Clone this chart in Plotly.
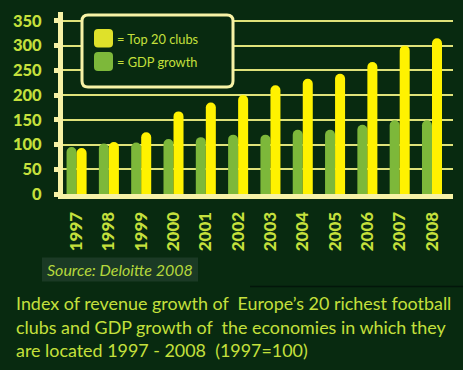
import plotly.graph_objects as go

years = ["1997", "1998", "1999", "2000", "2001", "2002", "2003", "2004", "2005", "2006", "2007", "2008"]
gdp_growth = [95, 102, 104, 111, 115, 120, 120, 130, 130, 140, 149, 149]
top20_clubs = [93, 105, 125, 167, 185, 200, 220, 233, 243, 267, 300, 315]
y_ticks = [0, 50, 100, 150, 200, 250, 300, 350]
title_lines = [
    "Index of revenue growth of \u00a0Europe\u2019s 20 richest football",
    "clubs and GDP growth of \u00a0the economies in which they",
    "are located 1997 - 2008 \u00a0(1997=100)",
]

W, H = 463, 370
L, R, T, B = 63, 453, 12, 193.7

BG = "#082a10"
PALE = "#f7f2a6"
GRID = "#dfe27a"
TXT = "#c5e03c"
GREEN = "#7db83a"
YELLOW = "#fff200"


def px(x):
    return (x - L) / (R - L)


def py(y):
    return (B - y) / (B - T)


def rrect(x0, y0, x1, y1, r):
    X0, X1 = px(x0), px(x1)
    Y0, Y1 = py(y0), py(y1)
    rx = r / (R - L)
    ry = r / (B - T)
    return (f"M {X0+rx},{Y0} L {X1-rx},{Y0} Q {X1},{Y0} {X1},{Y0-ry} "
            f"L {X1},{Y1+ry} Q {X1},{Y1} {X1-rx},{Y1} L {X0+rx},{Y1} "
            f"Q {X0},{Y1} {X0},{Y1+ry} L {X0},{Y0-ry} Q {X0},{Y0} {X0+rx},{Y0} Z")


fig = go.Figure()
fig.add_trace(go.Bar(x=years, y=gdp_growth, name="= GDP growth", hoverinfo="skip",
                     marker=dict(color=GREEN, line=dict(width=0), cornerradius="50%")))
fig.add_trace(go.Bar(x=years, y=top20_clubs, name="= Top 20 clubs", hoverinfo="skip",
                     marker=dict(color=YELLOW, line=dict(width=0), cornerradius="50%")))

shapes = []
shapes.append(dict(type="path", xref="paper", yref="paper", path=rrect(82, 15, 233, 87, 6),
                   fillcolor=BG, line=dict(color=PALE, width=3), layer="above"))
shapes.append(dict(type="path", xref="paper", yref="paper", path=rrect(94, 29, 113, 47.5, 4),
                   fillcolor="#dfe12a", line=dict(width=0), layer="above"))
shapes.append(dict(type="path", xref="paper", yref="paper", path=rrect(94, 52, 113, 71, 4),
                   fillcolor=GREEN, line=dict(width=0), layer="above"))
shapes.append(dict(type="rect", xref="paper", yref="paper", x0=px(42), x1=px(198), y0=py(257), y1=py(281),
                   fillcolor="#1b3a25", line=dict(width=0), layer="below"))
shapes.append(dict(type="line", xref="paper", yref="paper", x0=px(250), x1=px(463), y0=py(286), y1=py(286),
                   line=dict(color="#02160a", width=1.5)))

annotations = [
    dict(text="= Top 20 clubs", x=px(115), y=py(38.5), xref="paper", yref="paper", xanchor="left",
         yanchor="middle", showarrow=False, font=dict(family="Lato", size=12.8, color=TXT)),
    dict(text="= GDP growth", x=px(115), y=py(61.5), xref="paper", yref="paper", xanchor="left",
         yanchor="middle", showarrow=False, font=dict(family="Lato", size=12.8, color=TXT)),
    dict(text="<i>Source: Deloitte 2008</i>", x=px(45), y=py(269.5), xref="paper", yref="paper",
         xanchor="left", yanchor="middle", showarrow=False,
         font=dict(family="Lato", size=16, color="#b5d83c")),
]
for line, yc in zip(title_lines, [302.5, 326.5, 349.5]):
    annotations.append(dict(text=line, x=px(14), y=py(yc), xref="paper", yref="paper",
                            xanchor="left", yanchor="middle", align="left", showarrow=False,
                            font=dict(family="Lato", size=17.9, color=TXT)))

fig.update_layout(
    width=W, height=H,
    margin=dict(l=L, r=W - R, t=T, b=H - B, pad=0, autoexpand=False),
    paper_bgcolor=BG, plot_bgcolor=BG,
    barmode="group", bargap=0.38, bargroupgap=0,
    showlegend=False, hovermode=False,
    shapes=shapes, annotations=annotations,
    xaxis=dict(range=[-0.42, 11.65], showgrid=False, showline=True, linecolor=PALE, linewidth=5,
               ticks="", tickangle=-90, ticklabelstandoff=6, automargin=False,
               tickfont=dict(family="Lato", size=17, color=TXT, weight=900)),
    yaxis=dict(range=[0, 368], tickvals=y_ticks, showgrid=True, gridcolor=GRID, gridwidth=2,
               zeroline=False, showline=True, linecolor=PALE, linewidth=5, automargin=False,
               ticks="outside", ticklen=4, tickwidth=5, tickcolor=PALE, ticklabelstandoff=9,
               tickfont=dict(family="Lato", size=16.5, color=TXT, weight=900)),
)

fig.write_html("out.html", config={"displayModeBar": False, "staticPlot": True},
               post_script="document.body.style.margin='0';document.body.style.background='" + BG + "';")
